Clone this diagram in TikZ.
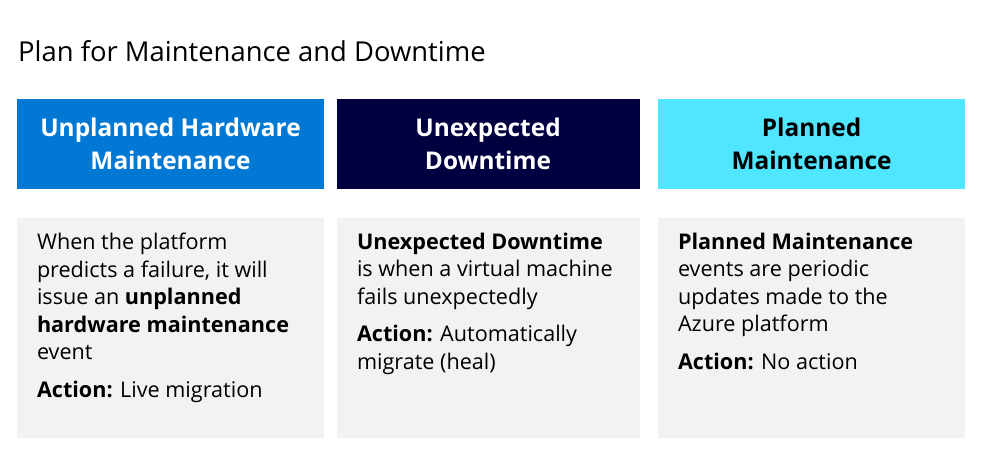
\documentclass[tikz,border=0pt]{standalone}
\usepackage{fontspec}
\setmainfont{Open Sans}
\definecolor{azblue}{HTML}{0078D4}
\definecolor{aznavy}{HTML}{000041}
\definecolor{azcyan}{HTML}{50E6FF}
\definecolor{cardgray}{HTML}{F2F2F2}
\begin{document}
\begin{tikzpicture}[x=1pt,y=-1pt,
  header/.style={minimum height=90pt,inner sep=0pt,align=center,
    font=\fontsize{24.4}{32.5}\selectfont\bfseries},
  card/.style={fill=cardgray,minimum height=220pt,inner sep=0pt},
  cardtext/.style={anchor=north west,inner sep=0pt,align=left,
    font=\fontsize{21.6}{27.5}\selectfont},
  title/.style={anchor=base west,inner sep=0pt,font=\fontsize{27.4}{30}\selectfont}]
\useasboundingbox (0,0) rectangle (984,453);

% heading
\node[title] (ttl) at (18,61) {Plan for Maintenance and Downtime};

% column headers
\node[header,minimum width=307pt,fill=azblue,text=white] (h1) at (170.5,144) {Unplanned Hardware\\Maintenance};
\node[header,minimum width=303pt,fill=aznavy,text=white] (h2) at (488,144) {Unexpected\\Downtime};
\node[header,minimum width=307pt,fill=azcyan,text=black] (h3) at (811.5,144) {Planned\\Maintenance};

% description cards
\node[card,minimum width=307pt] (c1) at (170.5,328) {};
\node[card,minimum width=303pt] (c2) at (488,328) {};
\node[card,minimum width=307pt] (c3) at (811.5,328) {};

\node[cardtext] (t1) at ([xshift=20pt,yshift=-15pt]c1.north west)
  {When the platform\\predicts a failure, it will\\issue an \textbf{unplanned}\\\textbf{hardware maintenance}\\event\\[10pt]\textbf{Action:} Live migration};
\node[cardtext] (t2) at ([xshift=20.5pt,yshift=-15pt]c2.north west)
  {\textbf{Unexpected Downtime}\\is when a virtual machine\\fails unexpectedly\\[10pt]\textbf{Action:} Automatically\\migrate (heal)};
\node[cardtext] (t3) at ([xshift=20pt,yshift=-15pt]c3.north west)
  {\textbf{Planned Maintenance}\\events are periodic\\updates made to the\\Azure platform\\[10pt]\textbf{Action:} No action};
\end{tikzpicture}
\end{document}
